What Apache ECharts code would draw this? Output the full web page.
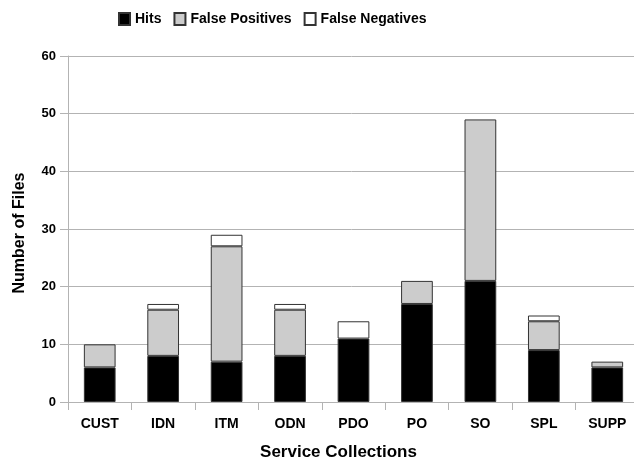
<!DOCTYPE html>
<html><head><meta charset="utf-8">
<script src="https://cdn.jsdelivr.net/npm/echarts@6/dist/echarts.min.js"></script>
<style>html,body{margin:0;padding:0;background:#fff}#c{width:634px;height:460px}</style>
</head><body><div id="c"></div>
<script>
var categories = ['CUST','IDN','ITM','ODN','PDO','PO','SO','SPL','SUPP'];
var hits = [6, 8, 7, 8, 11, 17, 21, 9, 6];
var falsePositives = [4, 8, 20, 8, 0, 4, 28, 5, 1];
var falseNegatives = [0, 1, 2, 1, 3, 0, 0, 1, 0];
var yTicks = [0, 10, 20, 30, 40, 50, 60];

var font = 'Liberation Sans, Arial, sans-serif';
var chart = echarts.init(document.getElementById('c'), null, {renderer:'canvas'});
function ser(name, data, color){
  return {name:name, type:'bar', stack:'s',
    data:data.map(function(v){ return v === 0 ? '-' : v; }),
    barWidth:'50%',
    itemStyle:{color:color, borderColor:'#333', borderWidth:1}};
}
chart.setOption({
  animation:false,
  textStyle:{fontFamily:font},
  legend:{top:7, left:113, icon:'rect', itemWidth:11, itemHeight:12, itemGap:12,
    textStyle:{fontFamily:font, fontWeight:'bold', fontSize:14, color:'#000'},
    data:['Hits','False Positives','False Negatives']},
  grid:{left:68, right:-5, top:56, bottom:58, containLabel:false, outerBoundsMode:'none'},
  xAxis:{type:'category', data:categories,
    name:'Service Collections', nameLocation:'middle', nameGap:42,
    nameTextStyle:{fontFamily:font, fontWeight:'bold', fontSize:17, color:'#000', padding:[0,0,0,-30]},
    axisLine:{lineStyle:{color:'#b3b3b3', width:1}},
    axisTick:{show:true, length:8, lineStyle:{color:'#b3b3b3'}},
    axisLabel:{fontFamily:font, fontWeight:'bold', fontSize:14, color:'#000', margin:15}},
  yAxis:{type:'value', min:yTicks[0], max:yTicks[yTicks.length-1], interval:10,
    name:'Number of Files', nameLocation:'middle', nameGap:40, nameRotate:90,
    nameTextStyle:{fontFamily:font, fontWeight:'bold', fontSize:16, color:'#000', padding:[0,0,0,-8]},
    axisLine:{show:true, lineStyle:{color:'#b3b3b3', width:1}},
    axisTick:{show:true, length:8, lineStyle:{color:'#b3b3b3'}},
    axisLabel:{fontFamily:font, fontWeight:'bold', fontSize:13, color:'#000', margin:12},
    splitLine:{lineStyle:{color:'#b3b3b3', width:1}}},
  series:[
    ser('Hits', hits, '#000000'),
    ser('False Positives', falsePositives, '#cccccc'),
    ser('False Negatives', falseNegatives, '#ffffff')
  ]
});
</script></body></html>
